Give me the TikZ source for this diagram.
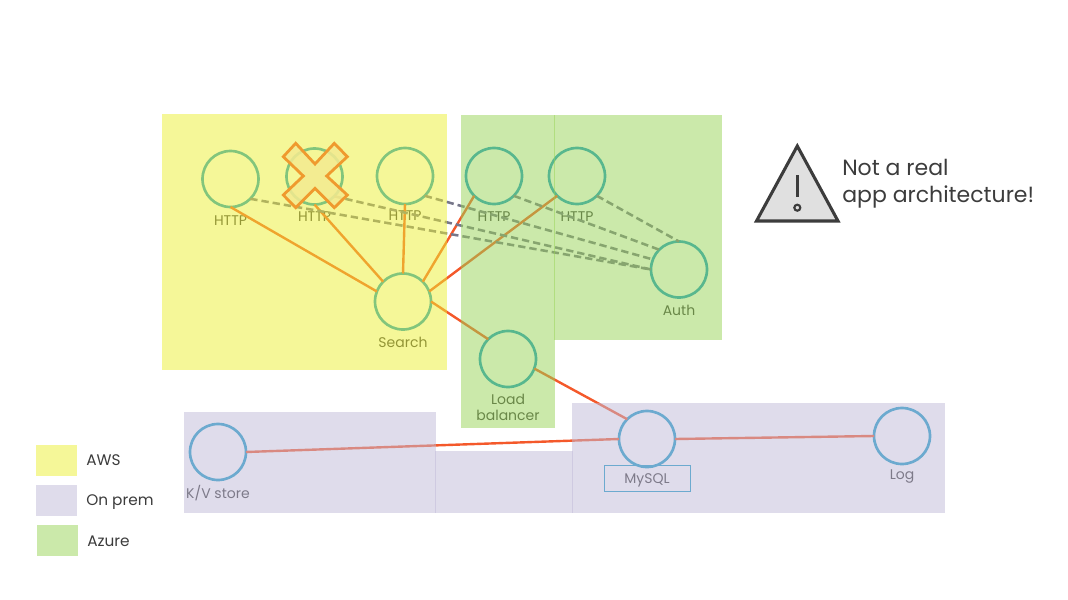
\documentclass[tikz,border=0pt]{standalone}
\usepackage{fontspec}
\setmainfont{Poppins}
\usepackage{tikz}
\usetikzlibrary{positioning}
\definecolor{tierblue}{HTML}{1A9CC8}
\definecolor{linkorange}{HTML}{F4592B}
\definecolor{linkgrey}{HTML}{77778A}
\definecolor{failorange}{HTML}{EF9A2E}
\definecolor{failfill}{HTML}{F3EA90}
\definecolor{inkgrey}{HTML}{3C3C3C}
\definecolor{awsyellow}{RGB}{235,239,49}
\definecolor{azuregreen}{RGB}{151,211,85}
\definecolor{premlilac}{RGB}{191,185,215}

\begin{document}
\begin{tikzpicture}[
  x=0.75pt, y=-0.75pt,
  svc/.style={
    circle, draw=tierblue, line width=2pt, minimum size=42pt, inner sep=0pt, outer sep=0pt,
  },
  lbl/.style={
    font=\fontsize{10.5}{12}\selectfont, text=inkgrey, align=center, inner sep=0pt,
  },
  legendlbl/.style={
    font=\fontsize{11.5}{14}\selectfont, text=inkgrey, anchor=west, inner sep=0pt,
  },
  link/.style={draw=linkorange, line width=1.8pt},
  dashlink/.style={draw=linkgrey, line width=1.9pt, dash pattern=on 5.5pt off 3pt},
  zone/.style={fill=#1, fill opacity=0.5, draw=none},
  node distance=3pt,
]
  \useasboundingbox (0,0) rectangle (1068,600);

  % Services
  \node[svc] (http1) at (230.5,179) {};
  \node[svc] (http2) at (314.5,176.5) {};
  \node[svc] (http3) at (405,176) {};
  \node[svc] (http4) at (494,176) {};
  \node[svc] (http5) at (577,176) {};
  \node[svc] (auth) at (679,269.5) {};
  \node[svc] (search) at (403,301.5) {};
  \node[svc] (lb) at (508,359) {};
  \node[svc] (kv) at (218,452) {};
  \node[svc] (mysql) at (647,439) {};
  \node[svc] (logs) at (902,436) {};

  % Labels
  \node[lbl, below=6.5pt of http1] (http1t) {HTTP};
  \node[lbl, below=5.5pt of http2] (http2t) {HTTP};
  \node[lbl, below=5pt of http3] (http3t) {HTTP};
  \node[lbl, below=5.5pt of http4] (http4t) {HTTP};
  \node[lbl, below=5.5pt of http5] (http5t) {HTTP};
  \node[lbl, below=5.5pt of auth] (autht) {Auth};
  \node[lbl, below=5.5pt of search] (searcht) {Search};
  \node[lbl, below=5.5pt of lb] (lbt) {Load\\balancer};
  \node[lbl, below=3.5pt of kv] (kvt) {K/V store};
  \node[lbl, draw=tierblue, line width=0.7pt, minimum width=64.5pt, minimum height=19pt, text height=7.5pt, text depth=0pt, below=-1.2pt of mysql] (mysqlt) {MySQL};
  \node[lbl, below=4pt of logs] (logst) {Log};

  % Links
  \draw[link] (http1.south) -- (search.159);
  \draw[link] (http2.south) -- (search.north west);
  \draw[link] (http3.south) -- (search.north);
  \draw[link] (http4.south west) -- (search.north east);
  \draw[link] (http5.south west) -- (search.21);
  \draw[link] (search.east) -- (lb.north west);
  \draw[link] (lb.-20) -- (mysql.north west);
  \draw[link] (kv.east) -- (mysql.west);
  \draw[link] (mysql.east) -- (logs.west);

  \draw[dashlink] (http1.south east) -- (auth.west);
  \draw[dashlink] (http2.south east) -- (auth.west);
  \draw[dashlink] (http3.south east) -- (auth.159);
  \draw[dashlink] (http4.south east) -- (auth.north west);
  \draw[dashlink] (http5.south east) -- (auth.north);

  % Zones
  \fill[zone=awsyellow] (162,114) rectangle (447,370);
  \fill[zone=azuregreen] (461,115) rectangle (555,428);
  \fill[zone=azuregreen] (554,115) rectangle (722,340);
  \fill[zone=premlilac] (184,412) rectangle (436,513);
  \fill[zone=premlilac] (435,451) rectangle (573,513);
  \fill[zone=premlilac] (572,403) rectangle (945,513);

  % Failed service
  \fill[failfill, fill opacity=0.85]
    (295.7,143.3) -- (315,164) -- (334.3,143.3) -- (347.3,156.7) -- (326.7,176) -- (347.3,195)
    -- (334.3,207.7) -- (315,188.3) -- (295.7,207.7) -- (283.3,195) -- (303.3,176) -- (283.3,156.7) -- cycle;
  \draw[draw=failorange, line width=2.1pt]
    (295.7,143.3) -- (315,164) -- (334.3,143.3) -- (347.3,156.7) -- (326.7,176) -- (347.3,195)
    -- (334.3,207.7) -- (315,188.3) -- (295.7,207.7) -- (283.3,195) -- (303.3,176) -- (283.3,156.7) -- cycle;

  % Legend
  \fill[zone=awsyellow] (36,445) rectangle (77,476);
  \fill[zone=premlilac] (36,485) rectangle (77,516);
  \fill[zone=azuregreen] (37,525) rectangle (78,556);
  \node[legendlbl] (awst) at (86,460) {AWS};
  \node[legendlbl] (premt) at (86,502.5) {On prem};
  \node[legendlbl] (azuret) at (87,541.5) {Azure};

  % Warning
  \draw[draw=inkgrey, fill=black!12, line width=2.3pt, line join=miter] (797.3,146) -- (838,221) -- (756.5,221) -- cycle;
  \draw[draw=inkgrey, line width=1.9pt] (797.3,175) -- (797.3,197);
  \draw[draw=inkgrey, fill=black!12, line width=1.6pt] (797.3,207.7) circle (3);
  \node[font=\fontsize{16.5}{20}\selectfont, text=inkgrey, align=left, anchor=west, inner sep=0pt] (warnt) at (842,183.5) {Not a real\\app architecture!};
\end{tikzpicture}
\end{document}
